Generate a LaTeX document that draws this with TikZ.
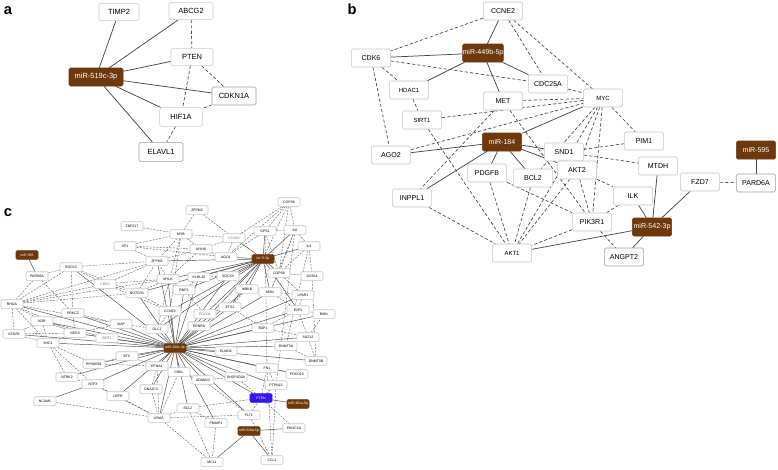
\documentclass[tikz,border=0pt]{standalone}
\usepackage{fontspec}
\setmainfont{Liberation Sans}
\usetikzlibrary{backgrounds}
\definecolor{mirbrown}{RGB}{108,56,12}
\definecolor{ptenblue}{RGB}{52,22,238}
\tikzset{
  na/.style={draw=gray!40, rounded corners=1.2pt, fill=white, minimum width=30pt, minimum height=13pt, inner sep=0pt, font=\fontsize{5.6}{6}\selectfont},
  ma/.style={na, fill=mirbrown, draw=mirbrown, text=white},
  nb/.style={draw=gray!45, rounded corners=1.2pt, fill=white, minimum width=29.5pt, minimum height=13.5pt, inner sep=0pt, font=\fontsize{5.3}{6}\selectfont},
  sm/.style={font=\fontsize{4.5}{5}\selectfont},
  mb/.style={nb, fill=mirbrown, draw=mirbrown, text=white},
  nc/.style={draw=gray!45, rounded corners=0.8pt, fill=white, minimum width=16.5pt, minimum height=6.4pt, inner sep=0pt, font=\fontsize{2.6}{3}\selectfont},
  mc/.style={nc, fill=mirbrown, draw=mirbrown, text=white},
  sl/.style={draw=black!72, line width=0.55pt},
  dl/.style={draw=black!72, line width=0.5pt, dash pattern=on 2.4pt off 1.6pt},
  sc/.style={draw=black!70, line width=0.35pt},
  dc/.style={draw=black!65, line width=0.3pt, dash pattern=on 1.5pt off 1pt},
  plabel/.style={font=\fontsize{11}{12}\selectfont\bfseries, inner sep=0pt}
}
\begin{document}
\begin{tikzpicture}[x=0.75pt,y=-0.75pt]
\useasboundingbox (0,0) rectangle (778,469);
% ---------------- panel labels
\node[plabel] (la) at (8,11) {a};
\node[plabel] (lb) at (352,9) {b};
\node[plabel] (lc) at (8,213) {c};
% ---------------- panel a
\node[na, minimum width=30pt] (TIMP2) at (119,12) {TIMP2};
\node[na, minimum width=33pt] (ABCG2) at (191,11) {ABCG2};
\node[na, minimum width=31.5pt] (PTENa) at (192,57) {PTEN};
\node[ma, minimum width=40.5pt, minimum height=13.5pt] (mir519) at (96,77) {miR-519c-3p};
\node[na, draw=gray!75, minimum width=33pt, minimum height=13.5pt] (CDKN1A) at (234,96) {CDKN1A};
\node[na, minimum width=32pt, minimum height=14pt] (HIF1A) at (181,117) {HIF1A};
\node[na, draw=gray!75, minimum width=33pt, minimum height=14.5pt] (ELAVL1) at (161,152) {ELAVL1};
% ---------------- panel b
\node[nb] (CCNE2) at (503,11) {CCNE2};
\node[mb] (m449) at (483,53) {miR-449b-5p};
\node[nb] (CDK6) at (371,58) {CDK6};
\node[nb, sm] (HDAC1) at (409,90) {HDAC1};
\node[nb] (CDC25A) at (548,84) {CDC25A};
\node[nb] (MET) at (503,101) {MET};
\node[nb, sm] (MYC) at (603,98) {MYC};
\node[nb, sm] (SIRT1) at (422,120) {SIRT1};
\node[nb] (PIM1) at (644,141) {PIM1};
\node[mb] (m184) at (502,142) {miR-184};
\node[nb] (AGO2) at (391,155) {AGO2};
\node[nb] (SND1) at (564,152) {SND1};
\node[mb] (m595) at (756,150) {miR-595};
\node[nb] (MTDH) at (658,166) {MTDH};
\node[nb] (AKT2) at (577,170) {AKT2};
\node[nb] (PDGFB) at (487,173) {PDGFB};
\node[nb] (BCL2) at (533,178) {BCL2};
\node[nb] (FZD7) at (700,182) {FZD7};
\node[nb, draw=gray!75] (PARD6A) at (756,183) {PARD6A};
\node[nb] (INPPL1) at (412,198) {INPPL1};
\node[nb] (ILK) at (633,196) {ILK};
\node[nb] (PIK3R1) at (592,222) {PIK3R1};
\node[mb] (m542) at (652,227) {miR-542-3p};
\node[nb, sm] (AKT1) at (512,253) {AKT1};
\node[nb, draw=gray!75] (ANGPT2) at (624,257) {ANGPT2};
% ---------------- panel c
\node[nc] (ZNF217) at (132,226) {ZNF217};
\node[nc] (SP1) at (125,246) {SP1};
\node[mc] (mir595c) at (27,255) {miR-595};
\node[nc] (ROCK2) at (71,267) {ROCK2};
\node[nc] (ZFPM1) at (157,261) {ZFPM1};
\node[nc] (MYB) at (181,234) {MYB};
\node[nc] (ZFPM2) at (197,210) {ZFPM2};
\node[nc] (COPS8a) at (289,202) {COPS8};
\node[nc] (GPS1) at (265,231) {GPS1};
\node[nc] (IL6) at (295,230) {IL6};
\node[nc, text=black!55] (CCND1) at (234,238) {CCND1};
\node[nc] (MYH9) at (201,249) {MYH9};
\node[nc] (IL3) at (309,246) {IL3};
\node[nc] (AGO1) at (226,257) {AGO1};
\node[mc] (let7f) at (263,259) {let-7f-5p};
\node[nc] (PARD6Ac) at (37,276) {PARD6A};
\node[nc, text=black!55] (CDK2) at (105,284) {CDK2};
\node[nc] (MYLK) at (168,279) {MYLK};
\node[nc] (NOTCH1) at (137,293) {NOTCH1};
\node[nc] (RHOA) at (12,304) {RHOA};
\node[nc] (PRKCZ) at (73,313) {PRKCZ};
\node[nc] (CCNE2c) at (170,311) {CCNE2};
\node[nc] (KDR) at (42,321) {KDR};
\node[nc] (XIAP) at (121,324) {XIAP};
\node[nc] (DLC1) at (157,329) {DLC1};
\node[nc] (VEGFA) at (14,334) {VEGFA};
\node[nc] (NOS3) at (75,333) {NOS3};
\node[nc, text=black!55] (SIRT1c) at (107,338) {SIRT1};
\node[nc] (SHC1) at (48,343) {SHC1};
\node[mc] (mir200) at (175,348) {miR-200c-3p};
\node[nc] (BTC) at (127,356) {BTC};
\node[nc] (RPS6KB1) at (94,364) {RPS6KB1};
\node[nc] (EFNA1) at (157,366) {EFNA1};
\node[nc] (KLHL20) at (199,277) {KLHL20};
\node[nc] (SOCS3) at (228,276) {SOCS3};
\node[nc] (COPS8b) at (279,273) {COPS8};
\node[nc] (GATA4) at (312,276) {GATA4};
\node[nc] (RNF2) at (184,290) {RNF2};
\node[nc] (IKBKB) at (247,289) {IKBKB};
\node[nc] (MSN) at (270,292) {MSN};
\node[nc] (LPAR1) at (303,295) {LPAR1};
\node[nc, text=black!55] (FOXO1) at (205,314) {FOXO1};
\node[nc] (ETS1) at (230,307) {ETS1};
\node[nc] (E2F3) at (298,310) {E2F3};
\node[nc] (BMI1) at (324,314) {BMI1};
\node[nc] (EDNRA) at (199,326) {EDNRA};
\node[nc] (BAP1) at (263,328) {BAP1};
\node[nc] (SUZ12) at (308,337) {SUZ12};
\node[nc] (DNMT3A) at (286,346) {DNMT3A};
\node[nc] (ELMO2) at (226,351) {ELMO2};
\node[nc] (DNMT3B) at (316,361) {DNMT3B};
\node[nc] (FN1) at (267,368) {FN1};
\node[nc] (PDCD10) at (297,374) {PDCD10};
\node[nc] (PTPN13) at (276,385) {PTPN13};
\node[nc] (CRKL) at (179,372) {CRKL};
\node[nc] (ADAM12) at (203,380) {ADAM12};
\node[nc] (SH3PXD2A) at (236,377) {SH3PXD2A};
\node[nc, fill=ptenblue, draw=ptenblue, text=white] (PTENc) at (261,398) {PTEN};
\node[mc] (mir301) at (298,404) {miR-301a-5p};
\node[nc] (BCL2c) at (188,408) {BCL2};
\node[nc] (FLT1) at (249,415) {FLT1};
\node[nc] (PMAIP1) at (216,423) {PMAIP1};
\node[nc] (PIK3C2A) at (294,428) {PIK3C2A};
\node[mc] (mir518) at (249,431) {miR-518a-5p};
\node[nc] (MCL1) at (212,462) {MCL1};
\node[nc] (CCL2) at (272,460) {CCL2};
\node[nc] (NTRK2) at (67,377) {NTRK2};
\node[nc] (NTF3) at (93,384) {NTF3};
\node[nc] (NCAM1) at (45,401) {NCAM1};
\node[nc] (LEPR) at (118,396) {LEPR};
\node[nc] (DNAJC3) at (151,389) {DNAJC3};
\node[nc] (KRAS) at (159,418) {KRAS};
% ================= edges (behind nodes)
\begin{pgfonlayer}{background}
% panel a
\foreach \t in {TIMP2,ABCG2,PTENa,CDKN1A,HIF1A,ELAVL1} \draw[sl] (mir519) -- (\t);
\foreach \a/\b in {ABCG2/PTENa,PTENa/HIF1A,PTENa/CDKN1A,CDKN1A/HIF1A,HIF1A/ELAVL1} \draw[dl] (\a) -- (\b);
% panel b
\foreach \a/\b in {CCNE2/m449,CDK6/m449,m449/HDAC1,m449/CDC25A,m449/MET,
  m184/AGO2,m184/MYC,m184/SND1,m184/AKT2,m184/PDGFB,m184/BCL2,m184/INPPL1,
  m595/PARD6A,m542/MTDH,m542/FZD7,m542/ILK,m542/AKT1,m542/ANGPT2}
  \draw[sl] (\a) -- (\b);
\foreach \a/\b in {CCNE2/CDK6,CCNE2/CDC25A,CCNE2/MYC,CDK6/CDC25A,CDK6/HDAC1,CDK6/AGO2,
  HDAC1/SIRT1,CDC25A/MYC,MET/MYC,SIRT1/MYC,SIRT1/AKT1,MET/INPPL1,MET/PIK3R1,AGO2/MYC,
  MYC/PIM1,MYC/AKT2,MYC/BCL2,MYC/PIK3R1,MYC/AKT1,SND1/PIM1,SND1/MTDH,AKT2/ILK,
  AKT2/PIK3R1,AKT2/AKT1,BCL2/AKT1,PDGFB/AKT1,PDGFB/PIK3R1,INPPL1/AKT1,ILK/PIK3R1,
  PIK3R1/AKT1,PIK3R1/ANGPT2,FZD7/PARD6A}
  \draw[dl] (\a) -- (\b);
% panel c solid
\foreach \t in {RHOA,PRKCZ,KDR,NOS3,SHC1,VEGFA,SIRT1c,XIAP,DLC1,CCNE2c,NOTCH1,ROCK2,BTC,
  RPS6KB1,EFNA1,NTRK2,NTF3,LEPR,DNAJC3,KRAS,CRKL,ADAM12,SH3PXD2A,BCL2c,FLT1,PMAIP1,
  ELMO2,EDNRA,FOXO1,ETS1,BAP1,SUZ12,BMI1,E2F3,DNMT3A,DNMT3B,FN1,PDCD10,PTPN13,PTENc,
  RNF2,MYLK,KLHL20,IKBKB,MSN,ZFPM1,SOCS3,LPAR1}
  \draw[sc] (mir200) -- (\t);
\foreach \t in {IL6,GPS1,AGO1,CCND1,KLHL20,SOCS3,RNF2,DLC1,NOTCH1,CCNE2c,ETS1,IKBKB,
  MYLK,EDNRA,FOXO1,COPS8b,MSN,E2F3,ZFPM1,IL3}
  \draw[sc] (let7f) -- (\t);
\foreach \a/\b in {mir595c/PARD6Ac,mir518/PIK3C2A,mir518/MCL1,mir518/CCL2,mir301/PTENc,NCAM1/NTF3}
  \draw[sc] (\a) -- (\b);
% panel c dashed
\foreach \a/\b in {ZNF217/MYB,SP1/ZFPM1,SP1/MYB,SP1/MYH9,SP1/AGO1,ZFPM2/MYB,ZFPM2/CCND1,
  MYB/CCND1,MYB/MYH9,MYB/ZFPM1,MYB/DLC1,MYB/CCNE2c,
  COPS8a/GPS1,COPS8a/IL6,COPS8a/let7f,COPS8a/AGO1,COPS8a/CCND1,COPS8a/COPS8b,
  GPS1/IL6,GPS1/AGO1,GPS1/COPS8b,IL6/IL3,IL6/COPS8b,IL6/MSN,IL3/COPS8b,IL3/GATA4,
  COPS8b/GATA4,CCND1/AGO1,CCND1/MYH9,MYH9/AGO1,MYH9/ZFPM1,MYH9/MYLK,
  ROCK2/RHOA,ROCK2/PRKCZ,ROCK2/ZFPM1,ROCK2/CDK2,ROCK2/PARD6Ac,ROCK2/NOTCH1,
  PARD6Ac/RHOA,PARD6Ac/PRKCZ,RHOA/KDR,RHOA/VEGFA,RHOA/CDK2,RHOA/NOTCH1,RHOA/XIAP,
  RHOA/NOS3,RHOA/SHC1,RHOA/ZFPM1,RHOA/MYLK,PRKCZ/KDR,PRKCZ/NOS3,PRKCZ/XIAP,
  KDR/VEGFA,KDR/SHC1,KDR/NOS3,KDR/SIRT1c,VEGFA/SHC1,VEGFA/NOS3,SHC1/NOS3,SHC1/NTRK2,
  SHC1/RPS6KB1,SHC1/NTF3,NOS3/SIRT1c,NOS3/XIAP,CDK2/NOTCH1,CDK2/ZFPM1,CDK2/MYLK,
  CDK2/CCNE2c,NOTCH1/MYLK,NOTCH1/ZFPM1,NOTCH1/CCNE2c,XIAP/DLC1,DLC1/CCNE2c,
  MYLK/ZFPM1,MYLK/RNF2,RPS6KB1/EFNA1,RPS6KB1/BTC,BTC/EFNA1,NTRK2/NTF3,NTF3/LEPR,
  LEPR/KRAS,NTF3/KRAS,NCAM1/KRAS,DNAJC3/KRAS,DNAJC3/EFNA1,EFNA1/KRAS,EFNA1/CRKL,
  KRAS/BCL2c,KRAS/MCL1,KRAS/CRKL,KRAS/FLT1,BCL2c/MCL1,BCL2c/PMAIP1,PMAIP1/MCL1,
  BCL2c/PTENc,FLT1/PTENc,PTENc/PIK3C2A,PTENc/PTPN13,PTENc/SH3PXD2A,PTENc/FN1,
  ADAM12/SH3PXD2A,ADAM12/FLT1,CRKL/ADAM12,FN1/CCL2,FN1/PDCD10,PTPN13/FN1,
  PTPN13/CCL2,FLT1/CCL2,DNMT3A/DNMT3B,SUZ12/BMI1,SUZ12/DNMT3A,SUZ12/DNMT3B,
  SUZ12/E2F3,BAP1/SUZ12,BMI1/E2F3,LPAR1/E2F3,MSN/IKBKB,MSN/LPAR1,MSN/E2F3,
  IKBKB/ETS1,SOCS3/KLHL20,KLHL20/RNF2,RNF2/FOXO1,FOXO1/ETS1,ETS1/BAP1,E2F3/BAP1,
  COPS8b/MSN,COPS8b/LPAR1,IL6/PTPN13,IL3/DNMT3A,GATA4/DNMT3B,GPS1/FN1}
  \draw[dc] (\a) -- (\b);
\end{pgfonlayer}
\end{tikzpicture}
\end{document}
